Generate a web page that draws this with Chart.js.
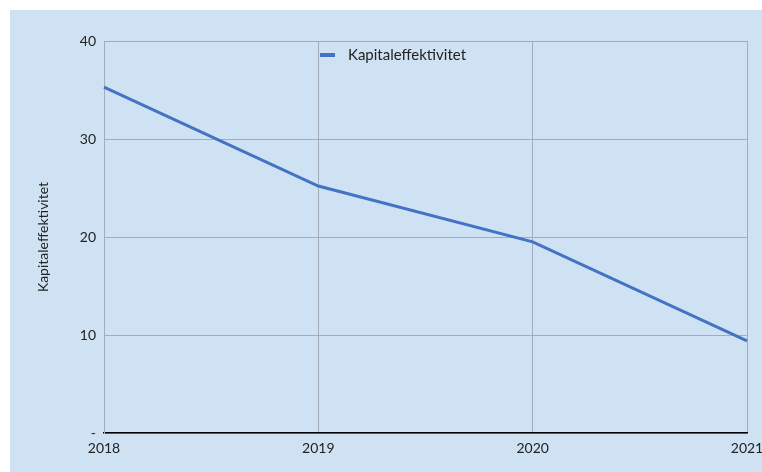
<!DOCTYPE html>
<html>
<head>
<meta charset="utf-8">
<script src="https://cdn.jsdelivr.net/npm/chart.js@4/dist/chart.umd.min.js"></script>
<style>
  html, body { margin: 0; padding: 0; background: #ffffff; }
  #wrap { position: absolute; left: 10px; top: 10px; width: 752px; height: 462px; background: #cfe2f3; }
  canvas { display: block; }
</style>
</head>
<body>
<div id="wrap"><canvas id="c" width="752" height="462"></canvas></div>
<script>
const years = ['2018', '2019', '2020', '2021'];
const kapitaleffektivitet = [35.3, 25.2, 19.5, 9.4];
const yTicks = [0, 10, 20, 30, 40];

const FONT = "Lato, 'Open Sans', sans-serif";
const GRID = '#a3adb8';
const BLUE = '#4472c4';

// Legend drawn inside the plot area, near the top centre
const innerLegend = {
  id: 'innerLegend',
  afterDraw(chart) {
    const ctx = chart.ctx;
    const ds = chart.data.datasets[0];
    const x = 310, y = 45;
    ctx.save();
    ctx.fillStyle = ds.borderColor;
    ctx.fillRect(x, y - 2, 15, 4);
    ctx.fillStyle = '#222222';
    ctx.font = '15px ' + FONT;
    ctx.textBaseline = 'middle';
    ctx.textAlign = 'left';
    ctx.fillText(ds.label, x + 28, y);
    ctx.restore();
  }
};

new Chart(document.getElementById('c'), {
  type: 'line',
  data: {
    labels: years,
    datasets: [{
      label: 'Kapitaleffektivitet',
      data: kapitaleffektivitet,
      borderColor: BLUE,
      backgroundColor: BLUE,
      borderWidth: 3,
      pointRadius: 0,
      tension: 0
    }]
  },
  options: {
    responsive: false,
    animation: false,
    layout: { padding: { left: 21, top: 31, right: 15, bottom: 0 } },
    plugins: {
      legend: { display: false },
      tooltip: { enabled: false }
    },
    scales: {
      x: {
        offset: false,
        grid: { color: GRID, lineWidth: 1, drawTicks: false },
        border: { color: '#000000', width: 1.5 },
        ticks: { color: '#222222', font: { family: FONT, size: 14 }, padding: 7, maxRotation: 0 },
        afterFit(s) { s.height = 39; s.paddingLeft = 0; s.paddingRight = 0; }
      },
      y: {
        min: 0, max: 40,
        afterBuildTicks(s) { s.ticks = yTicks.map(v => ({ value: v })); },
        grid: { color: GRID, lineWidth: 1, drawTicks: false },
        border: { color: GRID, width: 1 },
        ticks: {
          color: '#222222', font: { family: FONT, size: 14 }, padding: 8,
          callback: v => v === 0 ? '-' : v
        },
        title: { display: true, text: 'Kapitaleffektivitet', color: '#222222', font: { family: FONT, size: 14 } },
        afterFit(s) { s.width = 73; s.paddingTop = 0; s.paddingBottom = 0; }
      }
    }
  },
  plugins: [innerLegend]
});
</script>
</body>
</html>
